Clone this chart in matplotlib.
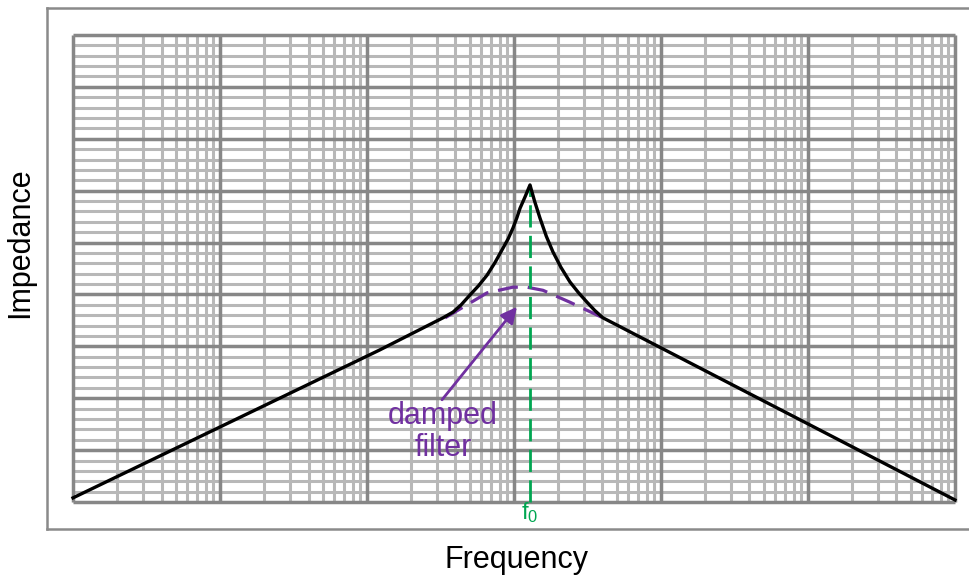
import numpy as np
import matplotlib
matplotlib.use('Agg')
import matplotlib.pyplot as plt

plt.rcParams['font.family'] = ['Liberation Sans', 'DejaVu Sans']
plt.rcParams['mathtext.fontset'] = 'custom'
plt.rcParams['mathtext.rm'] = 'Liberation Sans'
plt.rcParams['mathtext.it'] = 'Liberation Sans'

# undamped response (frequency, impedance level)
freq = [1, 122, 329, 385, 437, 502, 575, 655, 741, 841, 912, 984, 1047,
        1099, 1189, 1285, 1380, 1503, 1660, 1841, 2089, 2404, 2754,
        3141, 3548, 4027, 6152, 1e6]
imp = [0.08, 2.93, 3.55, 3.66, 3.80, 3.99, 4.17, 4.37, 4.61, 4.89, 5.07,
       5.28, 5.48, 5.66, 5.88, 6.11, 5.80, 5.47, 5.12, 4.82, 4.52, 4.24,
       4.03, 3.85, 3.69, 3.55, 3.28, 0.04]

# damped filter response near resonance
damp_freq = [340, 385, 655, 984, 1225, 1574, 2404, 4027]
damp_imp = [3.55, 3.64, 4.03, 4.14, 4.14, 4.08, 3.85, 3.55]

f0 = 1285
f0_top = 6.1

# annotation
label_pos = (329, 1.35)
arrow_tail = (324, 1.97)
arrow_tip = (1047, 3.76)

# grid extents: 6 decades, 9 linear divisions
f_min, f_max = 1, 1e6
y_min, y_max = 0, 9

purple = '#7030A0'
green = '#00A651'
major_c = '#878787'
minor_c = '#b8b8b8'

fig = plt.figure(figsize=(9.7, 5.78), dpi=100)
ax = fig.add_axes([47/970, 49/578, 930/970, 521/578])
ax.set_xscale('log')
ax.set_xlim(10**-0.177, 10**6.150)
ax.set_ylim(-0.52, 9.52)

# log grid (vertical) and linear grid (horizontal)
minor_x = [m * 10**d for d in range(6) for m in range(2, 10)]
major_x = [10**d for d in range(7)]
minor_y = [v for v in np.arange(y_min, y_max + 0.01, 0.2) if abs(v - round(v)) > 0.01]
major_y = list(range(y_min, y_max + 1))

ax.vlines(minor_x, y_min, y_max, color=minor_c, lw=2.2, zorder=1)
ax.hlines(minor_y, f_min, f_max, color=minor_c, lw=2.2, zorder=1)
ax.hlines(major_y, f_min, f_max, color=major_c, lw=2.5, zorder=2)
ax.vlines(major_x, y_min, y_max, color=major_c, lw=2.5, zorder=2)

ax.plot(freq, imp, color='black', lw=2.4, zorder=5, solid_joinstyle='round')
ax.plot(damp_freq, damp_imp, color=purple, lw=2.3, ls=(0, (6.3, 3.1)), zorder=4)
ax.vlines(f0, 0, f0_top, color=green, lw=2.0, linestyles=(0, (8, 3)), zorder=4)

ax.annotate('', xy=arrow_tip, xytext=arrow_tail,
            arrowprops=dict(arrowstyle='-|>', color=purple, lw=2,
                            mutation_scale=24, shrinkA=0, shrinkB=0))
ax.text(*label_pos, 'damped\nfilter', color=purple, fontsize=22,
        ha='center', va='center', linespacing=1.05)

ax.text(f0, -0.2, r'f$\mathregular{_0}$', color=green, fontsize=17,
        ha='center', va='center')

for s in ax.spines.values():
    s.set_color('#8a8a8a')
    s.set_linewidth(1.8)
ax.set_xticks([])
ax.set_yticks([])
ax.minorticks_off()
ax.tick_params(which='both', length=0, labelbottom=False, labelleft=False)

fig.text(517/970, 1 - 560/578, 'Frequency', fontsize=22, ha='center', va='center')
fig.text(20/970, 1 - 243/578, 'Impedance', fontsize=22, ha='center', va='center',
         rotation=90)

fig.savefig('out.png', dpi=100)
